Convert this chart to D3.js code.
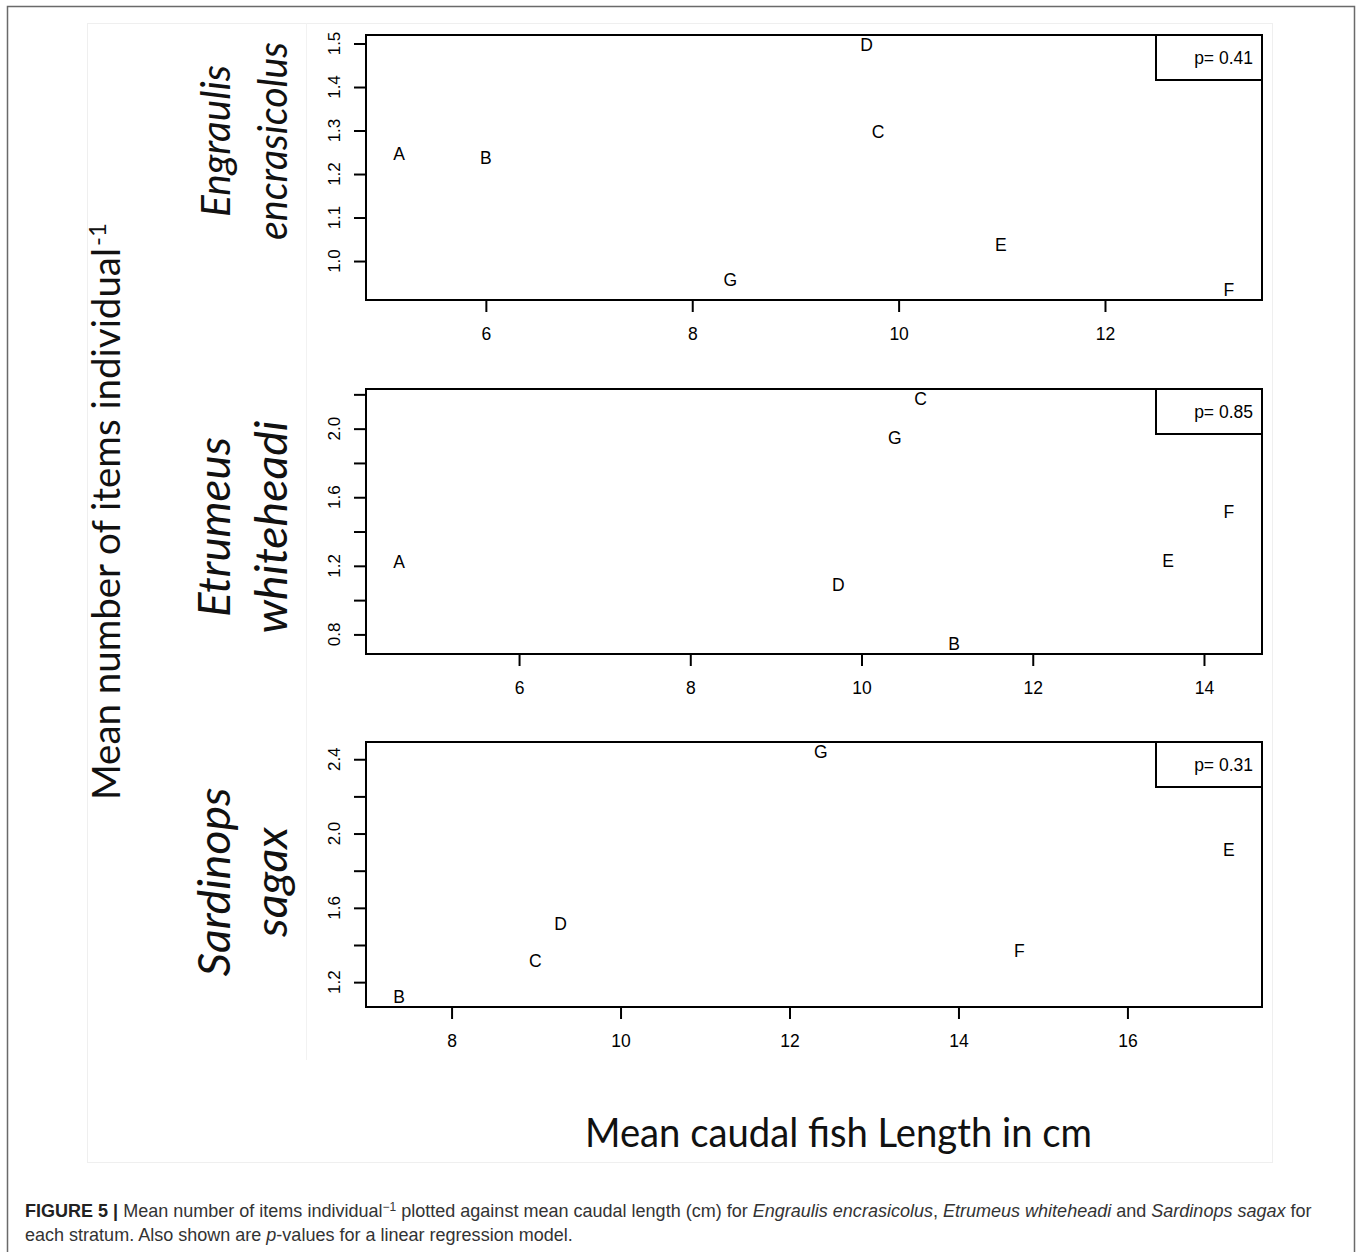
<!DOCTYPE html>
<html>
<head>
<meta charset="utf-8">
<script src="https://cdn.jsdelivr.net/npm/d3@7"></script>
<style>
body { margin: 0; background: #fff; }
</style>
</head>
<body>
<div id="chart"></div>
<script>
var W = 1358, H = 1252;

// stratum labels drawn at each point
var strata = ["A", "B", "C", "D", "E", "F", "G"];

// Engraulis encrasicolus
var engLength = [5.16, 6.00, 9.80, 9.69, 10.99, 13.20, 8.37];
var engItems  = [1.246, 1.237, 1.297, 1.497, 1.037, 0.933, 0.956];

// Etrumeus whiteheadi
var etrLength = [4.60, 11.08, 10.69, 9.73, 13.58, 14.29, 10.39];
var etrItems  = [1.224, 0.743, 2.174, 1.092, 1.230, 1.517, 1.949];

// Sardinops sagax (no stratum A)
var sarStrata = ["B", "C", "D", "E", "F", "G"];
var sarLength = [7.38, 8.99, 9.29, 17.20, 14.72, 12.37];
var sarItems  = [1.119, 1.317, 1.516, 1.913, 1.368, 2.440];

var pValues = ["p= 0.41", "p= 0.85", "p= 0.31"];

var xTicks1 = [6, 8, 10, 12];
var yTicks1 = [1.0, 1.1, 1.2, 1.3, 1.4, 1.5];
var yLabels1 = [1.0, 1.1, 1.2, 1.3, 1.4, 1.5];
var xTicks2 = [6, 8, 10, 12, 14];
var yTicks2 = [0.8, 1.0, 1.2, 1.4, 1.6, 1.8, 2.0, 2.2];
var yLabels2 = [0.8, 1.2, 1.6, 2.0];
var xTicks3 = [8, 10, 12, 14, 16];
var yTicks3 = [1.2, 1.4, 1.6, 1.8, 2.0, 2.2, 2.4];
var yLabels3 = [1.2, 1.6, 2.0, 2.4];

var panels = [
  {top: 35,  names: ["Engraulis", "encrasicolus"], lens: [152, 198], fs: 40, cy: 141,
   labels: strata, xs: engLength, ys: engItems, xt: xTicks1, yt: yTicks1, yl: yLabels1, p: pValues[0]},
  {top: 389, names: ["Etrumeus", "whiteheadi"], lens: [180, 213], fs: 44, cy: 527,
   labels: strata, xs: etrLength, ys: etrItems, xt: xTicks2, yt: yTicks2, yl: yLabels2, p: pValues[1]},
  {top: 742, names: ["Sardinops", "sagax"], lens: [189, 110], fs: 44, cy: 882,
   labels: sarStrata, xs: sarLength, ys: sarItems, xt: xTicks3, yt: yTicks3, yl: yLabels3, p: pValues[2]}
];

var boxL = 366, boxR = 1262, boxH = 265;
var arial = "'Liberation Sans', Arial, sans-serif";
var calib = "Lato, 'Open Sans', sans-serif";

// R pads the data range by 4% on each side
function rDomain(v) {
  var e = d3.extent(v), pad = (e[1] - e[0]) * 0.04;
  return [e[0] - pad, e[1] + pad];
}

var svg = d3.select("#chart").append("svg")
  .attr("width", W)
  .attr("height", H)
  .style("display", "block");

svg.append("rect").attr("width", W).attr("height", H).attr("fill", "#fff");

// page frame (open at the bottom) and faint image edges
svg.append("path")
  .attr("d", "M7.5,1260V6.5H1354.5V1260")
  .attr("fill", "none").attr("stroke", "#6a6a6a").attr("stroke-width", 1.5);
svg.append("rect")
  .attr("x", 87.5).attr("y", 23.5).attr("width", 1185).attr("height", 1139)
  .attr("fill", "none").attr("stroke", "#efefef");
svg.append("line")
  .attr("x1", 306.5).attr("x2", 306.5).attr("y1", 23.5).attr("y2", 1060)
  .attr("stroke", "#f2f2f2");

panels.forEach(function(pn) {
  var x = d3.scaleLinear().domain(rDomain(pn.xs)).range([boxL, boxR]);
  var y = d3.scaleLinear().domain(rDomain(pn.ys)).range([pn.top + boxH, pn.top]);
  var g = svg.append("g");

  // x ticks
  var xa = g.append("g")
    .attr("transform", "translate(0," + (pn.top + boxH) + ")")
    .call(d3.axisBottom(x).tickValues(pn.xt).tickSize(12).tickSizeOuter(0).tickPadding(16)
      .tickFormat(d3.format("d")));
  xa.select(".domain").remove();
  xa.selectAll("line").attr("stroke", "#000").attr("stroke-width", 2);
  xa.selectAll("text").attr("font-family", arial).attr("font-size", 17.5).attr("fill", "#000");

  // y ticks (labels drawn rotated, as R does)
  var ya = g.append("g")
    .attr("transform", "translate(" + boxL + ",0)")
    .call(d3.axisLeft(y).tickValues(pn.yt).tickSize(12).tickSizeOuter(0).tickFormat(""));
  ya.select(".domain").remove();
  ya.selectAll("line").attr("stroke", "#000").attr("stroke-width", 2);

  g.selectAll("text.ylab")
    .data(pn.yl)
    .enter().append("text")
    .attr("class", "ylab")
    .attr("transform", function(d) { return "translate(340," + y(d) + ") rotate(-90)"; })
    .attr("text-anchor", "middle")
    .attr("font-family", arial).attr("font-size", 17).attr("fill", "#000")
    .text(function(d) { return d3.format(".1f")(d); });

  // plot box
  g.append("rect")
    .attr("x", boxL).attr("y", pn.top)
    .attr("width", boxR - boxL).attr("height", boxH)
    .attr("fill", "none").attr("stroke", "#000").attr("stroke-width", 2);

  // stratum letters as the plotting symbols
  g.selectAll("text.pt")
    .data(pn.labels)
    .enter().append("text")
    .attr("class", "pt")
    .attr("x", function(d, i) { return x(pn.xs[i]); })
    .attr("y", function(d, i) { return y(pn.ys[i]); })
    .attr("dy", "0.36em")
    .attr("text-anchor", "middle")
    .attr("font-family", arial).attr("font-size", 17.5).attr("fill", "#000")
    .text(function(d) { return d; });

  // legend with p-value
  g.append("rect")
    .attr("x", 1156).attr("y", pn.top)
    .attr("width", boxR - 1156).attr("height", 45)
    .attr("fill", "#fff").attr("stroke", "#000").attr("stroke-width", 2);
  g.append("text")
    .attr("x", 1253).attr("y", pn.top + 23).attr("dy", "0.36em")
    .attr("text-anchor", "end")
    .attr("font-family", arial).attr("font-size", 17.5).attr("fill", "#000")
    .text(pn.p);

  // species name, two rotated lines
  [230, 287].forEach(function(bx, k) {
    g.append("text")
      .attr("transform", "translate(" + bx + "," + pn.cy + ") rotate(-90)")
      .attr("text-anchor", "middle")
      .attr("font-family", calib).attr("font-style", "italic")
      .attr("font-size", pn.fs).attr("fill", "#111")
      .attr("textLength", pn.lens[k]).attr("lengthAdjust", "spacingAndGlyphs")
      .text(pn.names[k]);
  });
});

// shared y title
var yMainLen = 552;
svg.append("text")
  .attr("transform", "translate(120,800) rotate(-90)")
  .attr("font-family", calib).attr("font-size", 38).attr("fill", "#111")
  .attr("textLength", yMainLen).attr("lengthAdjust", "spacingAndGlyphs")
  .text("Mean number of items individual");
svg.append("text")
  .attr("transform", "translate(106," + (800 - yMainLen - 2) + ") rotate(-90)")
  .attr("font-family", calib).attr("font-size", 24).attr("fill", "#111")
  .text("-1");

// shared x title
svg.append("text")
  .attr("x", 838.5).attr("y", 1147)
  .attr("text-anchor", "middle")
  .attr("font-family", calib).attr("font-size", 40).attr("fill", "#111")
  .attr("textLength", 507).attr("lengthAdjust", "spacingAndGlyphs")
  .text("Mean caudal fish Length in cm");

// caption
var cap1 = svg.append("text")
  .attr("x", 25).attr("y", 1217)
  .attr("font-family", arial).attr("font-size", 15).attr("fill", "#333");
cap1.append("tspan").attr("font-weight", "bold").attr("fill", "#222").text("FIGURE 5 | ");
cap1.append("tspan").text("Mean number of items individual");
cap1.append("tspan").attr("dy", -6).attr("font-size", 10).text("\u22121");
cap1.append("tspan").attr("dy", 6).text(" plotted against mean caudal length (cm) for ");
cap1.append("tspan").attr("font-style", "italic").text("Engraulis encrasicolus");
cap1.append("tspan").text(", ");
cap1.append("tspan").attr("font-style", "italic").text("Etrumeus whiteheadi");
cap1.append("tspan").text(" and ");
cap1.append("tspan").attr("font-style", "italic").text("Sardinops sagax");
cap1.append("tspan").text(" for");

var cap2 = svg.append("text")
  .attr("x", 25).attr("y", 1241)
  .attr("font-family", arial).attr("font-size", 15).attr("fill", "#333");
cap2.append("tspan").text("each stratum. Also shown are ");
cap2.append("tspan").attr("font-style", "italic").text("p");
cap2.append("tspan").text("-values for a linear regression model.");

// fit caption font size to the width of the first line
var f = 1288 / cap1.node().getComputedTextLength();
[cap1, cap2].forEach(function(c) {
  c.attr("font-size", 15 * f);
  c.selectAll("tspan").filter(function() { return this.getAttribute("font-size"); })
    .attr("font-size", 10 * f);
});
</script>
</body>
</html>
